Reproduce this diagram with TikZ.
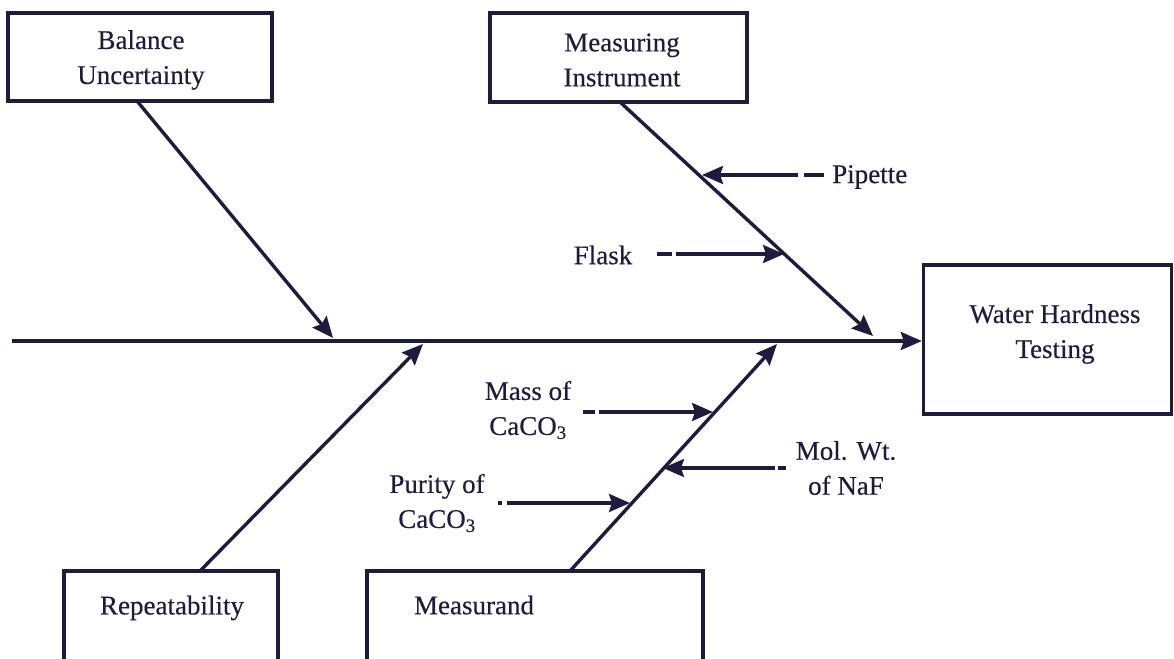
\documentclass[tikz,border=0pt]{standalone}
\usepackage{fontspec}
\setmainfont[FakeBold=0.35]{Liberation Serif}
\usetikzlibrary{arrows.meta}
\definecolor{ink}{RGB}{30,28,62}
\begin{document}
\begin{tikzpicture}[x=1pt,y=-1pt,
  box/.style={draw=ink, line width=3.4pt, inner sep=0pt, text=ink,
              font=\fontsize{27}{34}\selectfont, align=center},
  txt/.style={text=ink, font=\fontsize{27}{35}\selectfont, align=center, inner sep=0pt},
  tip/.style={-{Stealth[length=21pt,width=18pt,inset=3pt]}},
  bone/.style={draw=ink, line width=3.4pt, tip},
  cause/.style 2 args={draw=ink, line width=3.2pt, tip, dash pattern=on #1 off #2 on 1000pt}]
\useasboundingbox (0,0) rectangle (1174,658);
\clip (0,0) rectangle (1174,658);

% boxes
\node[box, minimum width=264pt, minimum height=88pt] (bal) at (140,57) {};
\node[box, minimum width=257pt, minimum height=89pt] (mi) at (618.5,57.5) {};
\node[box, minimum width=248pt, minimum height=149pt] (wh) at (1047.5,339.5) {};
\node[box, minimum width=214pt, minimum height=120pt] (rep) at (171,631) {};
\node[box, minimum width=336pt, minimum height=120pt] (msd) at (535,631) {};

% box texts
\node[txt] (baltxt) at (141,60) {Balance\\Uncertainty};
\node[txt] (mitxt) at (622,60) {Measuring\\Instrument};
\node[txt] (whtxt) at (1055,334) {Water Hardness\\Testing};
\node[txt] (reptxt) at (172,608) {Repeatability};
\node[txt] (msdtxt) at (474,605) {Measurand};

% spine
\coordinate (tail) at (12,341);
\draw[bone] (tail) -- (wh.west |- tail);

% bones
\coordinate (balS) at (137,101);
\coordinate (balT) at (333,338);
\coordinate (miS) at (620,102);
\coordinate (miT) at (873,336);
\coordinate (repS) at (200,571);
\coordinate (repT) at (423,344);
\coordinate (msdS) at (570,571);
\coordinate (msdT) at (777,344);
\draw[bone] (balS) -- (balT);
\draw[bone] (miS) -- (miT);
\draw[bone] (repS) -- (repT);
\draw[bone] (msdS) -- (msdT);

% cause labels
\node[txt, anchor=west] (pip) at (832,177) {Pipette};
\node[txt] (fla) at (603,255) {Flask};
\node[txt] (mas) at (528,410) {Mass of\\CaCO\textsubscript{3}};
\node[txt] (mol) at (846,468) {Mol. Wt.\\of NaF};
\node[txt] (pur) at (437,503) {Purity of\\CaCO\textsubscript{3}};

% cause arrows
\coordinate (pipS) at (824,175);  \coordinate (pipT) at (702,175);
\coordinate (flaS) at (657,254);  \coordinate (flaT) at (784,254);
\coordinate (masS) at (583,412);  \coordinate (masT) at (713,412);
\coordinate (molS) at (786,468);  \coordinate (molT) at (663,468);
\coordinate (purS) at (498,503);  \coordinate (purT) at (630,503);
\draw[cause={20pt}{6pt}] (pipS) -- (pipT);
\draw[cause={15pt}{4pt}] (flaS) -- (flaT);
\draw[cause={12pt}{4pt}] (masS) -- (masT);
\draw[cause={8pt}{3pt}] (molS) -- (molT);
\draw[cause={4pt}{5pt}] (purS) -- (purT);
\end{tikzpicture}
\end{document}
